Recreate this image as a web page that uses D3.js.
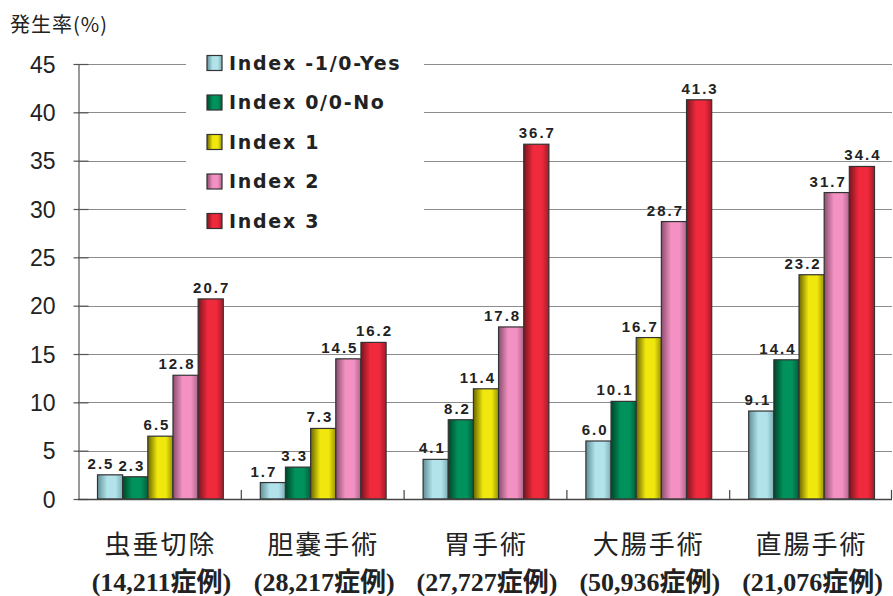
<!DOCTYPE html>
<html>
<head>
<meta charset="utf-8">
<script src="https://cdn.jsdelivr.net/npm/d3@7"></script>
<style>
  html, body { margin: 0; padding: 0; background: #fff; }
  svg { display: block; }
</style>
</head>
<body>
<svg id="chart" width="893" height="596"></svg>
<script>
// Surgical categories and their case counts
const categories = ["虫垂切除", "胆嚢手術", "胃手術", "大腸手術", "直腸手術"];
const caseCounts = ["(14,211症例)", "(28,217症例)", "(27,727症例)", "(50,936症例)", "(21,076症例)"];

// Risk index series
const seriesNames = ["Index -1/0-Yes", "Index 0/0-No", "Index 1", "Index 2", "Index 3"];

// Incidence (%) per risk index, one value per category
const indexM1Yes = [2.5, 1.7, 4.1, 6.0, 9.1];
const index0No   = [2.3, 3.3, 8.2, 10.1, 14.4];
const index1     = [6.5, 7.3, 11.4, 16.7, 23.2];
const index2     = [12.8, 14.5, 17.8, 28.7, 31.7];
const index3     = [20.7, 16.2, 36.7, 41.3, 34.4];
const seriesValues = [indexM1Yes, index0No, index1, index2, index3];

const yTicks = [0, 5, 10, 15, 20, 25, 30, 35, 40, 45];
const yTitle = "発生率(%)";

// Bar fill colours: [edge shade, main colour]
const palette = [
  ["#5f9098", "#b3e3ea"],
  ["#00452b", "#00925c"],
  ["#6b6600", "#f0e80c"],
  ["#8a4e6e", "#f291c2"],
  ["#7a1520", "#f02a3c"]
];

const svg = d3.select("#chart");
const plot = { left: 78, right: 892, top: 64, bottom: 499 };

const y = d3.scaleLinear().domain([0, 45]).range([plot.bottom, plot.top]);
const x0 = d3.scaleBand().domain(categories).range([plot.left, plot.right]).padding(0);
const x1 = d3.scaleBand().domain(d3.range(seriesNames.length))
  .range([19, x0.bandwidth() - 18]).padding(0);

// Cylinder-like horizontal gradients
const defs = svg.append("defs");
palette.forEach((c, i) => {
  const g = defs.append("linearGradient").attr("id", "grad" + i)
    .attr("x1", "0%").attr("x2", "100%").attr("y1", "0%").attr("y2", "0%");
  g.append("stop").attr("offset", "0%").attr("stop-color", c[0]);
  g.append("stop").attr("offset", "38%").attr("stop-color", c[1]);
  g.append("stop").attr("offset", "72%").attr("stop-color", c[1]);
  g.append("stop").attr("offset", "100%").attr("stop-color", d3.interpolateRgb(c[0], c[1])(0.35));
});

// Horizontal gridlines
svg.append("g").selectAll("line").data(yTicks.filter(d => d > 0)).join("line")
  .attr("x1", plot.left).attr("x2", plot.right)
  .attr("y1", d => Math.round(y(d)) + 0.5).attr("y2", d => Math.round(y(d)) + 0.5)
  .attr("stroke", "#8c8c8c").attr("stroke-width", 1.2);

// Y axis with ticks crossing the axis line
const yAxis = d3.axisLeft(y).tickValues(yTicks).tickSize(0).tickPadding(0).tickFormat(d3.format("d"));
const gy = svg.append("g").attr("transform", `translate(${plot.left + 0.5},0)`).call(yAxis);
gy.select(".domain").attr("stroke", "#555").attr("stroke-width", 1.2);
gy.selectAll(".tick text")
  .attr("x", -23)
  .attr("dy", "0.36em")
  .style("font-family", "'Liberation Sans', Arial, sans-serif")
  .style("font-size", "23px")
  .attr("fill", "#222");
gy.selectAll(".tick").append("line")
  .attr("x1", -5).attr("x2", 10).attr("stroke", "#555").attr("stroke-width", 1.2);

// Legend background (drawn over gridlines)
const legend = svg.append("g");
legend.append("rect").attr("x", 186).attr("y", 44).attr("width", 238).attr("height", 198)
  .attr("fill", "#fff");

// Bars
const groups = svg.append("g").selectAll("g").data(categories).join("g")
  .attr("transform", d => `translate(${x0(d)},0)`);

groups.each(function (cat, ci) {
  const g = d3.select(this);
  const labels = [];
  seriesValues.forEach((vals, si) => {
    const v = vals[ci];
    g.append("rect")
      .attr("x", x1(si) + 0.5)
      .attr("y", y(v))
      .attr("width", x1.bandwidth())
      .attr("height", y(0) - y(v))
      .attr("fill", `url(#grad${si})`)
      .attr("stroke", "#333")
      .attr("stroke-width", 1.2);
    const t = g.append("text")
      .attr("y", y(v) - 6)
      .attr("text-anchor", "start")
      .style("font-family", "'Liberation Sans', Arial, sans-serif")
      .style("font-weight", "bold")
      .style("font-size", "15px")
      .style("letter-spacing", "2px")
      .attr("fill", "#222")
      .text(v.toFixed(1));
    const w = t.node().getComputedTextLength() - 2;
    labels.push({ t, v, w, center: x1(si) + x1.bandwidth() / 2 + 0.5, right: x1(si) + x1.bandwidth() });
  });
  // Place value labels centred over bars, nudged left where the next bar
  // or the next label would collide with them
  const n = labels.length;
  for (let i = n - 1; i >= 0; i--) {
    const L = labels[i];
    let left = L.center - L.w / 2;
    if (i < n - 1) {
      const N = labels[i + 1];
      if (y(N.v) < y(L.v) - 6) {
        left = Math.min(left, L.right - 4 - L.w);
      }
      const sameRow = Math.abs(y(N.v) - y(L.v)) < 16;
      if (sameRow && left + L.w > N.left - 6) left = N.left - 6 - L.w;
    }
    L.left = left;
    L.t.attr("x", left);
  }
});

// X axis baseline and boundary ticks
svg.append("line").attr("x1", plot.left).attr("x2", plot.right)
  .attr("y1", plot.bottom + 0.5).attr("y2", plot.bottom + 0.5)
  .attr("stroke", "#444").attr("stroke-width", 1.4);
const bounds = categories.map(c => x0(c)).concat([plot.right - 1]);
svg.append("g").selectAll("line").data(bounds.slice(1)).join("line")
  .attr("x1", d => d + 0.5).attr("x2", d => d + 0.5)
  .attr("y1", plot.bottom - 9).attr("y2", plot.bottom)
  .attr("stroke", "#444").attr("stroke-width", 1.2);

// Category labels
svg.append("g").selectAll("text").data(categories).join("text")
  .attr("x", d => x0(d) + x0.bandwidth() / 2 + 1)
  .attr("y", 554)
  .attr("text-anchor", "middle")
  .style("font-family", "'Noto Sans CJK JP', sans-serif")
  .style("font-size", "26px")
  .style("letter-spacing", "2px")
  .attr("fill", "#222")
  .text(d => d);

svg.append("g").selectAll("text").data(caseCounts).join("text")
  .attr("x", (d, i) => x0(categories[i]) + x0.bandwidth() / 2 + 2)
  .attr("y", 591)
  .attr("text-anchor", "middle")
  .style("font-family", "'Liberation Serif', 'Noto Sans CJK JP', serif")
  .style("font-weight", "bold")
  .style("font-size", "26px")
  .attr("fill", "#222")
  .text(d => d);

// Y axis title
svg.append("text").attr("x", 10).attr("y", 32)
  .style("font-family", "'Noto Sans CJK JP', sans-serif")
  .style("font-size", "20px")
  .style("letter-spacing", "1px")
  .attr("fill", "#222")
  .text(yTitle);

// Legend entries
const rowY = d3.scalePoint().domain(d3.range(seriesNames.length)).range([63, 221]);
const items = legend.selectAll("g.item").data(seriesNames).join("g").attr("class", "item")
  .attr("transform", (d, i) => `translate(207,${rowY(i)})`);
items.append("rect")
  .attr("x", 0).attr("y", -7.5).attr("width", 15).attr("height", 15)
  .attr("fill", (d, i) => `url(#grad${i})`)
  .attr("stroke", "#333").attr("stroke-width", 1.2);
items.append("text")
  .attr("x", 22).attr("y", 0).attr("dy", "0.36em")
  .style("font-family", "'DejaVu Sans', sans-serif")
  .style("font-weight", "bold")
  .style("font-size", "19px")
  .style("letter-spacing", "1.7px")
  .attr("fill", "#222")
  .text(d => d);
</script>
</body>
</html>
